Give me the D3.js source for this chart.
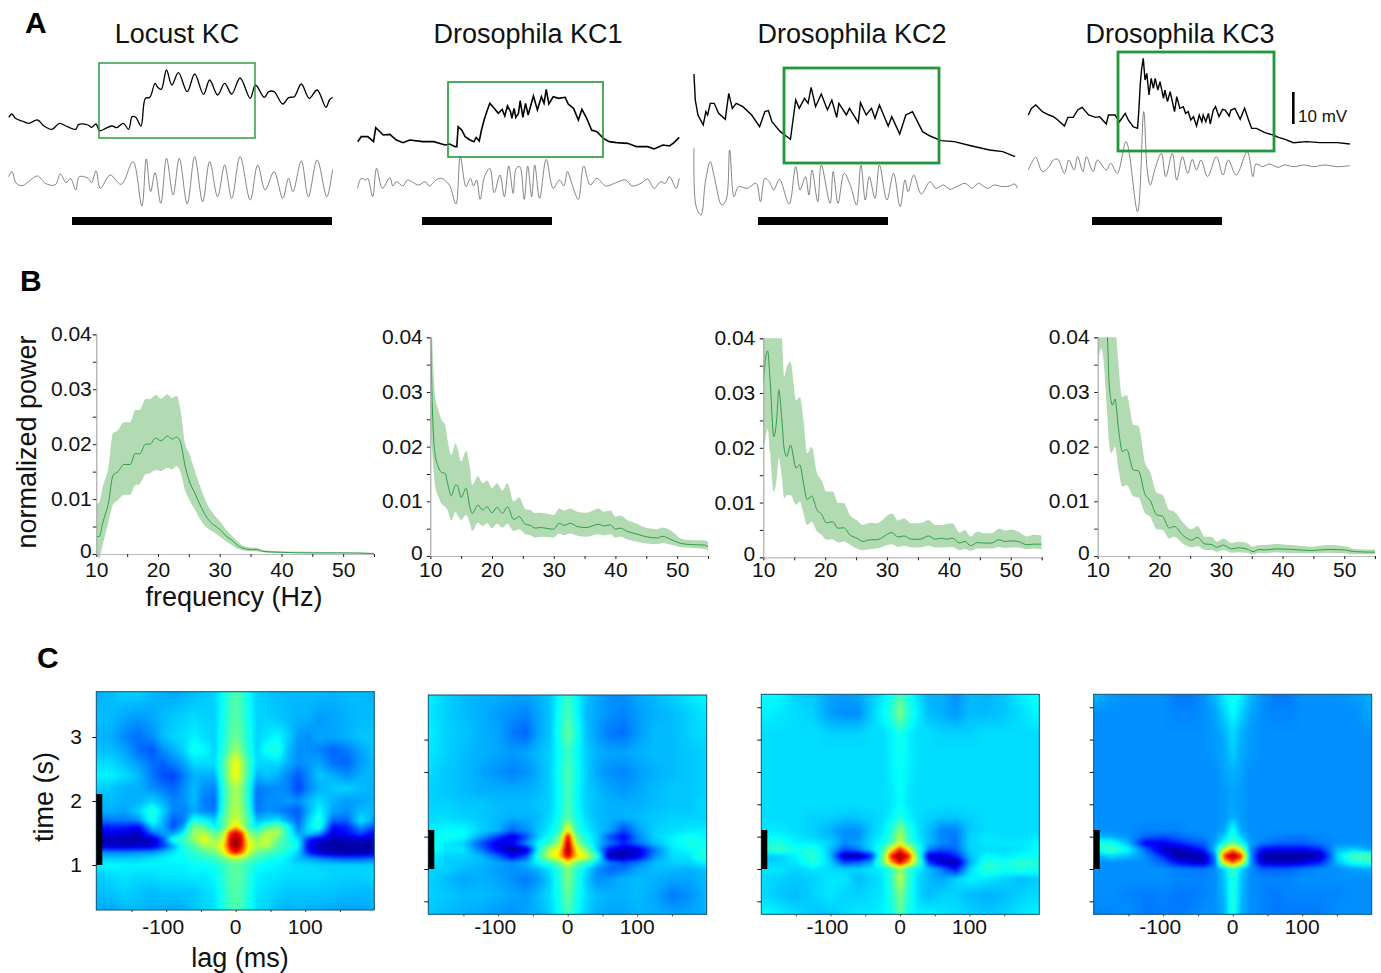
<!DOCTYPE html>
<html><head><meta charset="utf-8">
<script src="https://cdn.jsdelivr.net/npm/d3@7"></script>
<style>
html,body{margin:0;padding:0;background:#fff}
svg{display:block;font-family:"Liberation Sans",Arial,sans-serif}
text{fill:#111}
</style></head><body>
<svg id="fig" width="1381" height="973"></svg>
<script>
// ---------- Panel A: titles, traces (sample index, recorded level), stimulus bars ----------
const titles = ["Locust KC","Drosophila KC1","Drosophila KC2","Drosophila KC3"];
const locustUpper = [[20,352],[27,342],[35,355],[50,363],[65,370],[85,360],[100,378],[118,388],[135,370],[150,378],[172,388],[178,374],[200,375],[208,382],[218,372],[226,392],[240,385],[255,378],[265,383],[280,370],[292,388],[300,350],[308,352],[320,378],[330,295],[340,292],[352,250],[358,262],[366,268],[378,210],[390,255],[405,218],[425,275],[442,222],[462,283],[476,240],[494,285],[510,250],[526,282],[545,234],[568,295],[580,255],[600,292],[610,275],[622,275],[642,312],[655,293],[668,290],[684,252],[702,295],[720,270],[740,322],[748,300],[755,292]];
const locustLower = [[20,530],[27,514],[37,550],[50,557],[62,548],[85,528],[103,550],[125,555],[137,522],[150,548],[160,535],[172,570],[180,530],[200,535],[208,548],[218,512],[228,565],[250,525],[275,553],[302,485],[322,618],[332,477],[342,575],[352,518],[365,610],[378,475],[393,585],[407,475],[425,612],[442,470],[460,605],[476,485],[494,590],[510,495],[526,595],[545,470],[568,600],[585,495],[602,570],[622,515],[642,595],[655,535],[665,575],[684,483],[700,590],[720,480],[742,590],[755,508]];
const kc1Upper = [[812,425],[820,410],[835,410],[848,425],[853,383],[870,405],[885,403],[900,420],[915,428],[930,420],[960,425],[985,425],[1010,435],[1021,432],[1033,440],[1037,440],[1040,380],[1048,390],[1056,410],[1067,420],[1076,425],[1081,412],[1088,423],[1093,390],[1099,360],[1105,335],[1112,310],[1120,322],[1131,340],[1140,328],[1146,348],[1152,318],[1159,335],[1162,355],[1167,325],[1171,352],[1177,340],[1181,302],[1187,352],[1193,310],[1199,345],[1211,288],[1220,330],[1229,290],[1235,310],[1240,268],[1246,312],[1256,290],[1268,295],[1283,292],[1290,312],[1302,325],[1313,360],[1321,328],[1332,355],[1343,390],[1355,395],[1370,415],[1383,425],[1400,428],[1425,430],[1445,440],[1470,440],[1485,447],[1505,435],[1520,438],[1530,428],[1542,412]];
const kc1Lower = [[812,565],[820,535],[830,540],[835,535],[846,590],[855,505],[868,565],[885,533],[892,558],[900,545],[915,558],[925,540],[950,555],[965,545],[975,558],[990,540],[1002,535],[1020,555],[1035,612],[1045,470],[1058,560],[1068,535],[1075,558],[1082,540],[1090,598],[1100,530],[1112,505],[1122,578],[1135,525],[1145,590],[1155,498],[1165,580],[1172,505],[1180,500],[1190,598],[1198,498],[1207,590],[1214,495],[1225,595],[1240,478],[1256,565],[1270,540],[1280,558],[1288,515],[1298,550],[1313,598],[1325,498],[1340,555],[1355,535],[1375,558],[1395,550],[1420,540],[1435,558],[1455,550],[1470,537],[1485,565],[1500,545],[1510,550],[1520,530],[1535,565],[1542,535]];
const kc2Upper = [[9,222],[12,300],[18,345],[30,375],[36,335],[40,345],[46,310],[55,310],[65,340],[80,358],[88,280],[96,325],[105,310],[120,320],[140,345],[158,380],[170,335],[178,332],[186,365],[205,395],[228,418],[240,300],[248,325],[260,295],[268,310],[275,262],[285,320],[298,282],[312,330],[322,300],[333,352],[338,310],[355,345],[362,325],[382,368],[387,308],[400,345],[412,325],[420,355],[430,315],[450,378],[458,350],[476,402],[490,345],[505,335],[528,395],[545,408],[570,422],[600,425],[640,438],[680,450],[710,455],[738,470]];
const kc2Lower = [[9,445],[14,620],[25,645],[35,545],[46,485],[55,530],[72,615],[82,600],[90,450],[100,590],[110,560],[130,565],[150,550],[160,605],[170,535],[180,545],[190,570],[203,538],[225,612],[240,500],[250,570],[262,530],[270,585],[277,510],[290,605],[298,495],[318,610],[325,515],[336,610],[350,520],[365,560],[378,615],[388,495],[398,600],[407,530],[420,595],[430,495],[447,600],[462,520],[477,620],[488,540],[495,575],[508,525],[525,582],[545,545],[558,565],[575,555],[590,568],[605,560],[625,550],[640,565],[655,550],[675,565],[690,555],[710,560],[725,558],[738,552],[743,565]];
const kc3Upper = [[768,345],[775,325],[785,315],[800,335],[815,345],[825,350],[835,360],[850,378],[858,352],[870,352],[880,330],[890,322],[905,345],[920,352],[930,350],[945,372],[950,345],[965,345],[975,365],[988,340],[995,360],[1006,380],[1016,385],[1019,330],[1022,255],[1025,210],[1029,175],[1033,240],[1037,220],[1042,285],[1047,235],[1052,265],[1056,235],[1062,270],[1067,245],[1075,295],[1078,270],[1084,305],[1090,275],[1100,335],[1105,290],[1112,325],[1120,320],[1125,340],[1131,335],[1137,360],[1143,350],[1150,378],[1156,345],[1162,365],[1165,345],[1171,365],[1177,340],[1181,372],[1188,330],[1193,320],[1201,350],[1209,328],[1215,330],[1224,348],[1228,330],[1237,325],[1249,358],[1259,325],[1268,360],[1275,385],[1286,385],[1305,398],[1324,405],[1336,412],[1351,418],[1370,428],[1400,425],[1430,428],[1470,428],[1498,432]];
const kc3Lower = [[768,510],[775,490],[785,472],[800,515],[815,500],[825,480],[835,478],[850,520],[860,480],[872,510],[880,470],[892,515],[900,470],[915,515],[925,480],[945,510],[955,490],[970,520],[990,425],[1016,635],[1030,335],[1038,510],[1045,555],[1055,510],[1070,460],[1080,530],[1095,460],[1105,540],[1118,470],[1130,520],[1140,478],[1150,510],[1160,480],[1175,530],[1195,470],[1210,525],[1222,480],[1240,525],[1265,455],[1278,530],[1285,492],[1300,500],[1315,492],[1335,502],[1350,495],[1370,500],[1395,495],[1415,500],[1440,495],[1470,500],[1498,497]];

// ---------- Panel B: frequency (Hz), mean, band ----------
const f1 = [10,10.5,11,12,12.7,13.5,14.5,15.5,16.3,17,18,18.7,19.6,20.5,21.5,22.3,23,23.6,24.4,25,26,27,28,29,30,31,32,33,34,35,36,37,38,40,45,50,55];
const mean1 = [.0032,.0032,.0055,.0095,.0143,.0150,.0163,.0163,.0183,.0182,.0200,.0200,.0211,.0206,.0215,.0209,.0213,.0205,.0160,.0135,.0110,.0085,.0065,.0053,.0045,.0033,.0025,.0015,.0010,.0008,.0008,.0005,.0004,.0003,.0002,.0002,.0001];
const hi1 = [.009,.0095,.012,.016,.022,.0225,.024,.024,.0262,.0262,.0282,.0282,.029,.0283,.0291,.0284,.0288,.0265,.020,.0185,.015,.0118,.0090,.0073,.0060,.0045,.0033,.0022,.0014,.0012,.0012,.0007,.0006,.0005,.0004,.0003,.0002];
const lo1 = [0,-.0008,.0015,.0060,.0090,.0098,.0108,.0108,.0125,.0127,.0145,.0147,.0153,.0151,.0157,.0154,.0160,.0150,.0115,.0100,.0080,.0060,.0047,.0040,.0032,.0023,.0016,.0009,.0006,.0005,.0005,.0003,.0002,.0002,.0001,.0001,0];

const f2 = [10,10.3,10.75,11.3,11.8,12.4,12.8,13.4,14.1,14.4,15,15.8,16.4,16.8,17.7,18.5,19.2,20,20.8,21.7,22.5,23.5,24.4,25.4,26.2,27,27.8,30,30.9,31.7,32.7,33.8,35.2,37.3,38.1,39.2,40,40.8,41.9,43.5,45.1,46.8,47.6,49.2,50.6,52.2,54.4,55];
const mean2 = [.045,.0285,.0188,.0163,.0153,.0151,.0133,.011,.013,.0129,.0107,.0124,.009,.0078,.0093,.0084,.009,.0079,.0089,.0078,.009,.0067,.0072,.0058,.0056,.0051,.0052,.0049,.006,.0056,.006,.0054,.0052,.0058,.0055,.0057,.0049,.0051,.0045,.004,.0035,.0033,.0036,.0029,.0023,.0021,.002,.0017];
const hi2 = [.05,.04,.0295,.0267,.0249,.024,.0212,.0185,.0206,.0197,.0173,.0192,.0163,.013,.0146,.0133,.0138,.0124,.0133,.012,.0133,.01,.0107,.0086,.0084,.0078,.0079,.0075,.0087,.0083,.0087,.0081,.0079,.0087,.0081,.0083,.0072,.0074,.0066,.0059,.0051,.0049,.0052,.0045,.0032,.0029,.0029,.0026];
const lo2 = [.024,.019,.013,.0109,.0096,.009,.0084,.0065,.0081,.0075,.0066,.0075,.006,.0046,.0061,.0055,.006,.0051,.0059,.0052,.0059,.0046,.0049,.004,.0038,.0034,.0035,.0034,.0041,.0038,.0041,.0037,.0035,.004,.0038,.004,.0034,.0035,.003,.0026,.0023,.0022,.0024,.002,.0016,.0015,.0013,.0011];

const f3 = [10,10.4,10.7,11.1,11.7,12.2,12.5,13,13.4,13.8,14.4,15.3,15.9,16.5,17.1,17.8,18.7,19.4,20.2,21.2,22.1,23,24,25.1,26.1,27.3,28.3,30.8,31.8,32.7,34,35.3,36.7,37.8,38.8,39.6,40.6,41.7,42.6,43.5,44.6,45.6,46.9,48.1,49.1,50.2,51.2,52.6,53.7,55];
const mean3 = [.0318,.0366,.0377,.0324,.022,.0257,.0306,.0251,.0196,.0184,.0205,.0163,.0169,.0135,.0105,.0112,.0086,.0079,.0063,.0065,.0053,.0054,.0041,.0035,.0029,.0032,.0032,.0045,.0037,.0039,.0033,.0033,.0039,.0033,.0035,.0033,.0035,.0026,.0029,.0021,.0027,.0026,.0026,.0032,.0029,.0030,.0029,.0023,.0024,.0024];
const hi3 = [.045,.045,.045,.043,.042,.042,.042,.04,.033,.0348,.0357,.0287,.0293,.0251,.019,.0202,.0153,.0141,.012,.012,.0099,.0099,.0077,.0068,.0059,.0063,.0062,.008,.0067,.0071,.0062,.0062,.0068,.0059,.0059,.0061,.0062,.0045,.005,.0038,.0047,.0044,.0044,.0052,.0049,.0051,.0047,.0038,.0041,.004];
const lo3 = [.019,.022,.0235,.019,.012,.0147,.0181,.0147,.0108,.0114,.0114,.0096,.0102,.008,.0059,.0065,.0047,.0041,.0032,.0033,.0027,.0029,.0023,.0016,.0013,.0015,.0016,.0024,.0019,.0021,.0018,.0018,.0021,.0018,.0018,.0018,.0019,.0013,.0015,.0012,.0016,.0016,.0016,.0019,.0017,.0018,.0018,.0015,.0016,.0015];

const f4 = [10,10.6,11.6,11.8,12.2,12.4,12.8,13.4,14,14.7,15.8,16.6,17.7,18.5,19.6,20.5,21.6,22.4,23.9,25.2,26.2,27.4,28.5,29.3,30.4,31.7,32.8,34.2,35.2,36.2,37.1,38.8,41.5,44.7,47.4,50.1,51.7,55];
const mean4 = [.06,.05,.0395,.0328,.0282,.0276,.0287,.023,.0191,.0195,.0157,.0156,.0112,.0102,.0075,.0073,.0051,.0054,.0037,.0029,.0034,.0022,.0021,.0016,.002,.0013,.0015,.0013,.0008,.0012,.0011,.0013,.0012,.001,.0012,.0011,.0008,.0007];
const hi4 = [.06,.06,.06,.06,.06,.055,.045,.0346,.0291,.0294,.024,.0238,.017,.0154,.0115,.0112,.0084,.0081,.0061,.0049,.0055,.0035,.0035,.0026,.0032,.0024,.0026,.0024,.0017,.002,.002,.0022,.002,.0017,.002,.0018,.0013,.0012];
const lo4 = [.035,.038,.025,.0212,.0188,.0191,.02,.0157,.0127,.013,.0109,.0107,.0078,.0072,.0049,.0048,.0032,.0035,.0022,.0016,.0018,.0011,.0011,.0008,.0011,.0006,.0007,.0006,.0003,.0006,.0005,.0007,.0005,.0005,.0006,.0005,.0003,.0003];

const powerTicks = [0,.005,.01,.015,.02,.025,.03,.035,.04];
const powerLabels = [0,.01,.02,.03,.04];
const freqTicks = [10,15,20,25,30,35,40,45,50,55];
const freqLabels = [10,20,30,40,50];

// ---------- Panel C: autocorrelogram grids (lag ms, time s, normalised level 0-100) ----------
const lagsLocust = [-200,-180,-160,-140,-120,-105,-90,-75,-60,-45,-30,-18,-8,0,8,18,30,45,60,75,90,105,120,140,160,180,200];
const timesLocust = [3.7,3.3,3.0,2.8,2.6,2.4,2.2,2.0,1.85,1.7,1.6,1.5,1.4,1.3,1.2,1.1,1.0,.85,.6,.3];
const heat1 = [
[27,28,30,30,28,27,26,27,28,29,30,35,41,44,41,35,30,29,28,28,28,28,28,27,28,28,27],
[28,28,26,25,26,28,29,30,31,30,30,36,42,45,42,36,30,30,29,28,27,27,25,26,27,28,28],
[27,27,23,21,24,28,30,31,33,31,30,37,44,48,44,37,30,32,34,30,25,24,26,26,27,29,29],
[28,28,26,21,19,24,27,30,36,34,30,38,47,54,47,38,30,36,38,28,24,24,23,20,22,26,29],
[31,31,28,25,21,20,23,26,31,31,31,42,56,65,56,42,31,30,31,27,24,25,26,21,20,25,28],
[33,33,31,28,22,18,17,22,27,27,27,41,56,64,56,41,27,29,27,23,19,24,29,27,24,27,28],
[30,29,27,27,24,22,20,24,28,24,23,38,50,56,50,38,22,23,24,23,17,23,27,29,30,28,27],
[28,28,27,27,30,27,23,24,28,22,21,38,50,56,50,38,21,24,24,25,24,28,31,27,25,26,27],
[27,27,26,30,38,30,23,23,26,23,22,40,52,57,52,40,22,24,23,21,19,27,34,26,24,28,28],
[20,22,22,24,37,28,19,22,37,34,30,44,55,60,55,44,28,30,32,26,20,30,38,20,20,32,25],
[12,14,14,11,30,27,18,26,50,46,33,42,60,70,60,42,33,44,50,36,22,32,38,12,14,25,18],
[8,10,8,5,20,26,25,34,54,56,46,54,85,92,85,54,46,56,56,38,25,30,26,8,12,18,10],
[4,4,4,4,5,18,37,42,52,64,52,60,92,98,92,62,52,60,48,38,32,14,8,4,6,6,5],
[8,7,6,6,8,16,26,38,44,54,56,66,90,100,90,66,56,56,44,40,34,10,5,3,3,3,3],
[24,23,23,24,25,28,32,36,40,44,48,60,80,88,80,60,48,44,40,36,30,14,7,4,3,4,5],
[30,30,30,30,32,33,34,35,37,39,41,46,52,54,52,46,41,37,35,32,28,26,24,21,20,20,22],
[33,34,33,33,33,33,33,33,34,35,36,40,44,45,44,40,36,34,33,32,31,31,30,30,30,30,30],
[29,31,32,31,31,32,32,32,33,32,34,39,44,46,44,39,33,32,32,31,31,31,31,30,30,30,31],
[28,29,30,29,28,29,29,29,29,31,32,38,43,45,43,38,32,31,30,29,29,29,29,29,28,28,28],
[27,26,28,28,27,27,26,27,29,30,31,37,42,44,42,37,31,30,28,27,28,27,27,26,26,26,27]];
const lags = [-200,-175,-150,-125,-100,-80,-60,-42,-25,-12,0,12,25,42,60,80,100,125,150,175,200];
const times = [3.7,3.4,3.1,2.8,2.5,2.2,2.0,1.8,1.6,1.5,1.4,1.3,1.2,1.1,1.0,.85,.6,.3];
const heat2 = [
[33,30,28,27,27,26,26,27,29,35,41,34,29,26,24,24,26,28,30,32,34],
[32,30,28,27,25,24,23,26,29,36,43,35,28,26,24,23,25,27,28,30,32],
[33,30,29,27,26,22,20,26,29,37,47,37,29,25,22,21,25,28,28,30,31],
[32,30,28,27,26,25,26,28,30,35,41,35,30,27,26,26,27,28,28,29,30],
[31,29,28,26,24,23,24,27,30,36,44,36,30,26,24,23,25,27,28,29,30],
[30,29,28,27,27,27,27,28,30,35,43,35,30,28,26,25,26,28,29,29,30],
[30,30,29,29,28,28,28,29,30,35,43,35,30,28,27,27,27,28,29,29,31],
[31,31,30,29,28,27,27,28,31,36,45,36,31,28,27,27,28,29,30,30,30],
[32,34,34,30,27,20,24,29,33,40,66,40,33,29,26,17,25,30,31,32,33],
[34,36,34,26,16,8,18,30,36,48,90,48,36,30,18,11,23,30,33,36,33],
[37,32,30,18,8,10,24,34,42,56,96,56,40,29,22,14,21,28,33,37,36],
[36,32,32,22,10,3,6,36,58,66,100,66,52,30,10,6,7,22,32,34,38],
[33,30,30,28,20,10,18,40,60,70,92,70,62,40,4,3,8,24,31,32,40],
[32,30,29,28,26,24,27,34,40,48,62,48,42,30,22,18,22,28,30,30,34],
[30,30,28,27,25,24,25,28,32,40,50,40,32,24,20,22,26,28,28,27,29],
[30,28,26,27,26,24,22,25,30,38,51,38,30,24,25,27,28,27,26,26,28],
[30,29,28,28,27,26,25,28,31,37,47,37,31,28,27,27,28,26,22,24,28],
[29,28,27,26,25,24,26,27,30,35,43,35,30,27,26,26,27,27,26,26,27]];
const heat3 = [
[34,34,30,29,26,25,26,29,32,36,44,36,31,27,27,24,28,27,29,33,35],
[33,32,31,30,25,24,24,29,34,39,50,39,33,28,27,25,28,28,29,31,34],
[31,31,31,31,30,30,30,31,31,33,37,33,31,31,30,30,30,31,31,31,31],
[31,31,31,31,31,31,31,31,31,33,36,33,31,31,31,31,31,31,31,31,31],
[31,31,31,31,31,31,31,31,31,33,35,33,31,31,31,31,31,31,31,31,31],
[31,31,31,31,31,31,31,31,31,32,35,32,31,31,31,31,31,31,31,31,31],
[31,31,31,31,31,31,31,31,31,32,34,32,31,31,31,31,31,31,31,31,31],
[31,31,31,30,30,29,29,30,31,33,38,33,31,30,29,29,30,31,31,31,31],
[32,32,31,30,27,24,24,29,32,38,52,38,32,28,23,23,29,31,31,31,31],
[34,34,32,30,28,24,24,30,33,40,56,40,32,28,23,22,30,32,31,31,32],
[36,38,33,33,30,24,26,31,35,44,60,44,34,28,24,22,30,32,32,32,34],
[38,41,36,38,28,18,22,30,40,66,86,66,40,22,18,20,30,31,31,32,34],
[28,30,33,40,28,4,3,14,46,88,100,88,46,6,8,14,28,34,32,34,36],
[30,30,32,38,30,18,20,26,46,74,90,74,48,16,6,3,26,38,36,40,38],
[32,32,30,32,31,30,30,32,33,40,54,40,33,28,22,12,30,40,36,38,36],
[31,30,29,30,32,32,28,30,32,40,58,40,31,28,26,30,33,32,30,28,30],
[31,29,28,30,32,30,30,31,32,38,50,38,31,28,30,30,28,27,28,30,31],
[34,33,31,29,29,31,32,32,33,36,46,36,33,33,32,31,30,29,30,32,33]];
const heat4 = [
[28,25,24,24,24,22,22,24,28,33,36,33,28,24,22,22,24,24,24,25,27],
[24,24,24,24,24,23,23,24,26,30,34,30,26,24,23,23,24,24,24,24,26],
[24,24,24,24,24,24,24,24,25,27,31,27,25,24,24,24,24,24,24,24,24],
[24,24,24,24,24,24,24,24,25,26,30,26,25,24,24,24,24,24,24,24,24],
[24,24,24,24,24,24,24,24,24,26,27,26,24,24,24,24,24,24,24,24,24],
[24,24,24,24,24,24,24,24,24,25,26,25,24,24,24,24,24,24,24,24,24],
[24,24,24,24,24,24,24,24,24,25,26,25,24,24,24,24,24,24,24,24,24],
[24,24,24,24,24,24,24,24,24,25,27,25,24,24,24,24,24,24,24,24,24],
[24,24,24,23,23,23,24,24,24,26,36,26,24,24,24,24,24,24,24,24,24],
[28,27,24,20,18,20,22,23,25,30,38,30,24,24,23,22,22,23,24,24,24],
[38,36,28,10,10,14,18,20,26,36,46,36,26,22,20,20,20,22,24,24,24],
[36,42,34,20,5,4,8,14,30,60,76,60,24,12,10,10,10,14,28,30,26],
[26,30,28,24,14,3,3,4,24,85,100,85,26,4,2,2,2,4,30,44,44],
[24,24,24,24,20,12,8,6,22,66,80,66,26,8,6,6,8,14,28,36,38],
[24,24,24,24,24,23,22,22,24,30,42,30,24,20,20,20,22,24,24,26,26],
[24,24,24,24,24,23,23,23,24,29,38,29,24,23,23,23,24,24,24,24,24],
[24,24,23,22,23,22,22,23,24,28,38,28,24,23,22,23,23,23,23,24,24],
[23,23,24,22,22,22,23,24,24,27,38,27,24,23,22,22,22,22,24,24,24]];
const lagTicks = [-150,-100,-50,0,50,100,150];
const lagLabels = [-100,0,100];

const svg = d3.select("#fig");
const greenLine = "#2f9e47", greenBand = "#b3dbb3";

// ---- Panel letters ----
[["A",25,33],["B",20,291],["C",37,668]].forEach(([t,x,y])=>{
  svg.append("text").attr("x",x).attr("y",y).attr("font-size",30).attr("font-weight","bold").style("fill","#000").text(t);
});

// ---- Panel A ----
const aY = d3.scaleLinear().domain([0,720]).range([0,240]);
const aPanels = [
 {title:0,tx:177,up:locustUpper,lo:locustLower,x0:0,bar:[72,332],box:[99,255,63,138],bw:1.4,uw:1.3,smooth:true},
 {title:1,tx:528,up:kc1Upper,lo:kc1Lower,x0:0,bar:[422,552],box:[448,603,82,157],bw:1.6,uw:1.6},
 {title:2,tx:852,up:kc2Upper,lo:kc2Lower,x0:690,bar:[758,888],box:[784,939,68,163],bw:2.8,uw:1.4},
 {title:3,tx:1180,up:kc3Upper,lo:kc3Lower,x0:690,bar:[1092,1222],box:[1118,1274,52,151],bw:2.8,uw:1.4}
];
aPanels.forEach(p=>{
  const ax = d3.scaleLinear().domain([0,1568]).range([p.x0,p.x0+690.7]);
  svg.append("text").attr("x",p.tx).attr("y",43).attr("text-anchor","middle").attr("font-size",27).text(titles[p.title]);
  const lineUp = d3.line().x(d=>ax(d[0])).y(d=>aY(d[1]));
  if(p.smooth) lineUp.curve(d3.curveCatmullRom.alpha(0.5));
  const lineLo = d3.line().x(d=>ax(d[0])).y(d=>aY(d[1])).curve(d3.curveCatmullRom.alpha(0.5));
  svg.append("path").attr("d",lineLo(p.lo)).attr("fill","none").attr("stroke","#444").attr("stroke-width",0.65);
  svg.append("path").attr("d",lineUp(p.up)).attr("fill","none").attr("stroke","#000").attr("stroke-width",p.uw);
  svg.append("rect").attr("x",p.bar[0]).attr("y",217).attr("width",p.bar[1]-p.bar[0]).attr("height",8).attr("fill","#000");
  svg.append("rect").attr("x",p.box[0]).attr("y",p.box[2]).attr("width",p.box[1]-p.box[0]).attr("height",p.box[3]-p.box[2])
     .attr("fill","none").attr("stroke","#20973a").attr("stroke-width",p.bw);
});
svg.append("rect").attr("x",1292).attr("y",92).attr("width",2.6).attr("height",32).attr("fill","#000");
svg.append("text").attr("x",1298).attr("y",122).attr("font-size",17).text("10 mV");

// ---- Panel B ----
const bPanels = [
 {f:f1,m:mean1,hi:hi1,lo:lo1,x:[96.3,374],y:[554,334.3],pad:4.5},
 {f:f2,m:mean2,hi:hi2,lo:lo2,x:[430.3,708],y:[556,337.3],pad:7.5},
 {f:f3,m:mean3,hi:hi3,lo:lo3,x:[763.3,1041.7],y:[557.3,338.3],pad:8},
 {f:f4,m:mean4,hi:hi4,lo:lo4,x:[1097.7,1375],y:[556,337.3],pad:8}
];
bPanels.forEach((p,i)=>{
  const x = d3.scaleLinear().domain([10,55]).range(p.x);
  const y = d3.scaleLinear().domain([0,.04]).range(p.y);
  const id = "clipB"+i;
  svg.append("clipPath").attr("id",id).append("rect").attr("x",p.x[0]).attr("y",p.y[1]).attr("width",p.x[1]-p.x[0]).attr("height",p.y[0]-p.y[1]+5);
  const g = svg.append("g").attr("clip-path",`url(#${id})`);
  const area = d3.area().x((d,j)=>x(p.f[j])).y0((d,j)=>y(p.lo[j])).y1((d,j)=>y(p.hi[j])).curve(d3.curveMonotoneX);
  g.append("path").attr("d",area(p.f)).attr("fill",greenBand);
  const line = d3.line().x((d,j)=>x(p.f[j])).y((d,j)=>y(p.m[j])).curve(d3.curveMonotoneX);
  g.append("path").attr("d",line(p.f)).attr("fill","none").attr("stroke",greenLine).attr("stroke-width",1);
  const xa = svg.append("g").attr("transform",`translate(0,${p.y[0]})`)
    .call(d3.axisBottom(x).tickValues(freqTicks).tickSize(3).tickPadding(0).tickFormat(""));
  xa.select(".domain").attr("stroke","#bbb").attr("stroke-width",1.2);
  xa.selectAll(".tick line").attr("stroke","#222");
  freqLabels.forEach(v=>{
    svg.append("text").attr("x",x(v)+0.5).attr("y",577).attr("text-anchor","middle").attr("font-size",21).text(v);
  });
  const ya = svg.append("g").attr("transform",`translate(${p.x[0]},0)`)
    .call(d3.axisLeft(y).tickValues(powerTicks).tickSize(3.5).tickFormat(""));
  ya.select(".domain").attr("stroke","#aaa").attr("stroke-width",1.2);
  ya.selectAll(".tick line").attr("stroke","#222");
  powerLabels.forEach(k=>{
    svg.append("text").attr("x",p.x[0]-p.pad).attr("y",y(k)+(k===0?4:7)).attr("text-anchor","end").attr("font-size",21).text(k===0?"0":k.toFixed(2));
  });
});
svg.append("text").attr("x",234).attr("y",606).attr("text-anchor","middle").attr("font-size",27).text("frequency (Hz)");
svg.append("text").attr("transform","translate(36,442) rotate(-90)").attr("text-anchor","middle").attr("font-size",27).text("normalized power");

// ---- Panel C ----
const jet = d3.scaleLinear()
  .domain([0,.11,.34,.5,.65,.89,1])
  .range(["#000080","#0000ff","#00ffff","#7dff7a","#ffff00","#ff0000","#800000"]).clamp(true);
const cPanels = [
 {h:heat1,lg:lagsLocust,tm:timesLocust,x:[96.3,374.3],zero:235.7,y:[910,691.7],t1:865,sp:64,bar:[794,865],yt:[1,2,3],yl:true},
 {h:heat2,lg:lags,tm:times,x:[428.3,706.7],zero:567.7,y:[914.3,695],t1:869,sp:64.7,bar:[830,869],yt:[.5,1,1.5,2.5,3],yl:false},
 {h:heat3,lg:lags,tm:times,x:[761.3,1039.3],zero:900,y:[914.3,694.3],t1:869,sp:64.7,bar:[830,869],yt:[.5,1,1.5,2,2.5,3,3.5],yl:false},
 {h:heat4,lg:lags,tm:times,x:[1093.7,1371.7],zero:1232.7,y:[914.3,694.3],t1:869,sp:64.7,bar:[830,869],yt:[.5,1,1.5,2,2.5,3,3.5],yl:false}
];
function sampleGrid(p,timeAsc,l,t){
  const h=p.h, lagAsc=p.lg, n=timeAsc.length;
  let i = d3.bisectRight(lagAsc,l)-1; i = Math.max(0,Math.min(lagAsc.length-2,i));
  let j = d3.bisectRight(timeAsc,t)-1; j = Math.max(0,Math.min(n-2,j));
  const fx = Math.max(0,Math.min(1,(l-lagAsc[i])/(lagAsc[i+1]-lagAsc[i])));
  const fy = Math.max(0,Math.min(1,(t-timeAsc[j])/(timeAsc[j+1]-timeAsc[j])));
  const r0 = h[n-1-j], r1 = h[n-2-j];
  return (r0[i]*(1-fx)+r0[i+1]*fx)*(1-fy)+(r1[i]*(1-fx)+r1[i+1]*fx)*fy;
}
cPanels.forEach((p,i)=>{
  const x = d3.scaleLinear().domain([-100,100]).range([p.zero-69.5,p.zero+69.5]);
  const y = d3.scaleLinear().domain([1,2]).range([p.t1,p.t1-p.sp]);
  const timeAsc = p.tm.slice().reverse();
  const W = Math.round(p.x[1]-p.x[0]), H = Math.round(p.y[0]-p.y[1]);
  const raw = document.createElement("canvas"); raw.width=W; raw.height=H;
  const ctx = raw.getContext("2d");
  const img = ctx.createImageData(W,H);
  for(let py=0;py<H;py++){
    for(let px=0;px<W;px++){
      const v = sampleGrid(p,timeAsc,x.invert(p.x[0]+px+.5),y.invert(p.y[1]+py+.5))/100;
      const c = d3.rgb(jet(v)); const k=(py*W+px)*4;
      img.data[k]=c.r;img.data[k+1]=c.g;img.data[k+2]=c.b;img.data[k+3]=255;
    }
  }
  ctx.putImageData(img,0,0);
  const out = document.createElement("canvas"); out.width=W; out.height=H;
  const oc = out.getContext("2d");
  oc.drawImage(raw,0,0);
  oc.filter="blur(1.2px)"; oc.drawImage(raw,0,0); oc.filter="none";
  svg.append("image").attr("x",p.x[0]).attr("y",p.y[1]).attr("width",p.x[1]-p.x[0]).attr("height",p.y[0]-p.y[1])
     .attr("preserveAspectRatio","none").attr("href",out.toDataURL("image/png"));
  svg.append("rect").attr("x",p.x[0]).attr("y",p.y[1]).attr("width",p.x[1]-p.x[0]).attr("height",p.y[0]-p.y[1])
     .attr("fill","none").attr("stroke","#12506f").attr("stroke-width",1);
  const xa = svg.append("g").attr("transform",`translate(0,${p.y[0]})`)
    .call(d3.axisBottom(x).tickValues(lagTicks).tickSize(2).tickFormat(""));
  xa.select(".domain").remove(); xa.selectAll(".tick line").attr("stroke","#333");
  lagLabels.forEach(v=>{
    svg.append("text").attr("x",x(v)-(v<0?3:0)).attr("y",934).attr("text-anchor","middle").attr("font-size",21).text(v);
  });
  const ya = svg.append("g").attr("transform",`translate(${p.x[0]},0)`)
    .call(d3.axisLeft(y).tickValues(p.yt).tickSize(4).tickFormat(""));
  ya.select(".domain").remove(); ya.selectAll(".tick line").attr("stroke","#111");
  if(p.yl) p.yt.forEach(v=>{
    svg.append("text").attr("x",82).attr("y",y(v)+7).attr("text-anchor","end").attr("font-size",21).text(v);
  });
  svg.append("rect").attr("x",p.x[0]).attr("y",p.bar[0]).attr("width",6).attr("height",p.bar[1]-p.bar[0]).attr("fill","#000");
});
svg.append("text").attr("x",240).attr("y",967).attr("text-anchor","middle").attr("font-size",27).text("lag (ms)");
svg.append("text").attr("transform","translate(53,797) rotate(-90)").attr("text-anchor","middle").attr("font-size",27).text("time (s)");
</script>
</body></html>
